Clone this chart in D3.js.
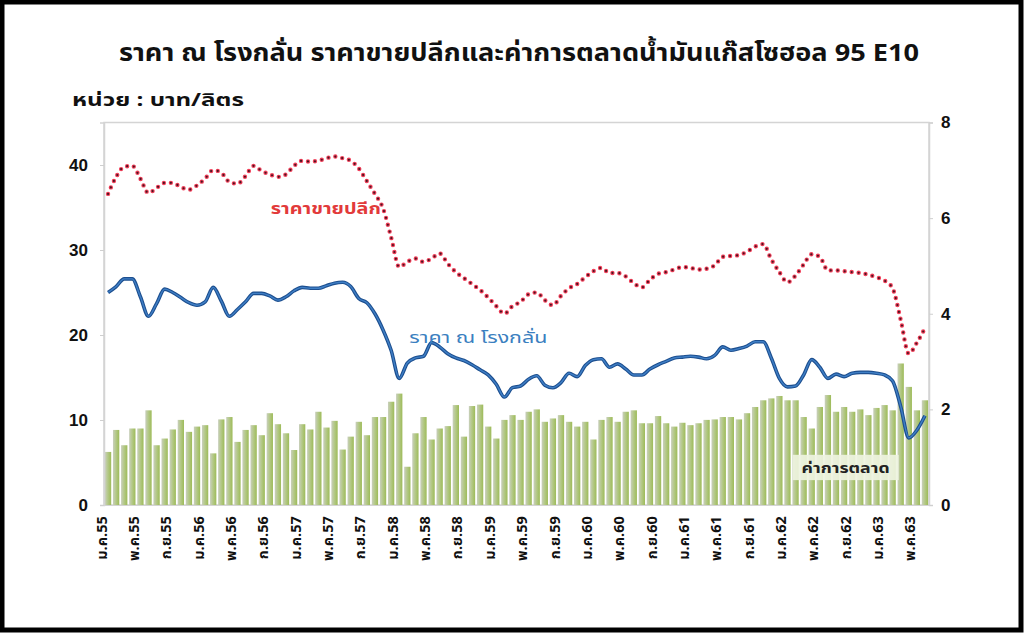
<!DOCTYPE html>
<html><head><meta charset="utf-8">
<script src="https://cdn.jsdelivr.net/npm/d3@7"></script>
<style>
body{margin:0;background:#fff;}
svg{display:block;}
text{font-family:"Noto Sans Thai","Tahoma","Leelawadee UI","Liberation Sans",sans-serif;}
</style></head>
<body><svg id="c" width="1024" height="633"></svg>
<script>
const monthNames = ['ม.ค.','ก.พ.','มี.ค.','เม.ย.','พ.ค.','มิ.ย.','ก.ค.','ส.ค.','ก.ย.','ต.ค.','พ.ย.','ธ.ค.'];
const years = ['55','56','57','58','59','60','61','62','63'];
const nMonths = 102;
const categories = [];
for (let i = 0; i < nMonths; i++) categories.push(monthNames[i % 12] + years[Math.floor(i / 12)]);

const tickLabels = ['ม.ค.55','พ.ค.55','ก.ย.55','ม.ค.56','พ.ค.56','ก.ย.56','ม.ค.57','พ.ค.57','ก.ย.57',
  'ม.ค.58','พ.ค.58','ก.ย.58','ม.ค.59','พ.ค.59','ก.ย.59','ม.ค.60','พ.ค.60','ก.ย.60',
  'ม.ค.61','พ.ค.61','ก.ย.61','ม.ค.62','พ.ค.62','ก.ย.62','ม.ค.63','พ.ค.63'];

// ราคาขายปลีก (left axis, บาท/ลิตร)
const retail = [36.6,38.6,39.8,39.9,38.4,36.7,37.3,37.9,37.9,37.4,37.1,37.6,38.4,39.4,39.1,38.0,37.8,38.7,39.9,39.3,
  38.9,38.6,38.9,39.9,40.5,40.4,40.5,40.8,41.0,40.8,40.5,39.6,38.1,36.6,34.9,31.5,28.0,28.6,29.0,28.6,
  29.0,29.6,28.4,27.4,26.7,26.0,25.3,24.4,23.4,22.5,23.4,23.9,24.8,25.0,24.1,23.5,24.6,25.5,26.0,26.8,
  27.5,27.9,27.3,27.3,26.9,26.1,25.6,26.5,27.2,27.4,27.7,28.0,27.9,27.7,27.8,28.2,29.2,29.3,29.4,29.8,
  30.4,30.7,28.9,27.4,26.2,27.0,28.3,29.5,29.2,27.6,27.6,27.5,27.4,27.3,27.1,26.8,26.4,25.5,21.8,17.8,
  19.1,20.8];
// ราคา ณ โรงกลั่น (left axis)
const refinery = [25.0,25.7,26.6,26.6,24.5,22.2,23.7,25.4,25.0,24.4,23.8,23.5,23.9,25.6,24.0,22.2,23.0,23.9,24.9,24.9,
  24.6,24.1,24.5,25.2,25.6,25.5,25.5,25.8,26.1,26.2,25.7,24.3,23.8,22.5,20.6,18.2,14.9,16.7,17.3,17.5,
  19.1,18.6,17.8,17.3,17.0,16.5,15.9,15.3,14.2,12.7,13.8,14.0,14.8,15.2,14.1,13.8,14.4,15.5,15.1,16.4,
  17.1,17.2,16.2,16.6,16.0,15.3,15.3,16.0,16.5,16.9,17.3,17.4,17.5,17.4,17.2,17.6,18.6,18.2,18.4,18.7,
  19.2,19.2,17.3,14.9,13.9,14.0,15.3,17.1,16.2,14.9,15.4,15.1,15.5,15.6,15.6,15.5,15.3,14.6,11.6,7.9,
  8.8,10.5];
// ค่าการตลาด (right axis)
const margin = [1.11,1.57,1.25,1.60,1.60,1.98,1.25,1.39,1.58,1.78,1.53,1.64,1.67,1.08,1.79,1.84,1.32,1.57,1.67,1.46,
  1.92,1.69,1.50,1.15,1.69,1.58,1.95,1.62,1.76,1.16,1.43,1.74,1.46,1.84,1.84,2.16,2.33,0.80,1.50,1.84,
  1.37,1.60,1.65,2.09,1.43,2.07,2.10,1.64,1.39,1.78,1.88,1.78,1.95,2.00,1.74,1.81,1.88,1.74,1.64,1.74,
  1.37,1.78,1.84,1.74,1.95,1.98,1.71,1.71,1.86,1.71,1.64,1.72,1.67,1.71,1.78,1.79,1.84,1.84,1.79,1.92,
  2.05,2.19,2.23,2.28,2.19,2.19,1.84,1.60,2.05,2.30,1.95,2.05,1.95,2.00,1.88,2.03,2.09,1.98,2.96,2.47,
  1.98,2.19];

const leftTicks = [0,10,20,30,40];
const rightTicks = [0,2,4,6,8];

const svg = d3.select('#c');
const X0 = 104, X1 = 929, Y0 = 505, Y1 = 122.5;

const x = d3.scaleBand().domain(categories).range([X0, X1]).paddingInner(0.22).paddingOuter(0.11);
const yL = d3.scaleLinear().domain([0, 45]).range([Y0, Y1]);
const yR = d3.scaleLinear().domain([0, 8]).range([Y0, Y1]);
const cx = d => x(d) + x.bandwidth() / 2;

// gradient for bars
const defs = svg.append('defs');
const g = defs.append('linearGradient').attr('id', 'bg').attr('x1', '0').attr('x2', '1').attr('y1', '0').attr('y2', '0');
g.append('stop').attr('offset', '0%').attr('stop-color', '#c9cfbd');
g.append('stop').attr('offset', '45%').attr('stop-color', '#b5c98a');
g.append('stop').attr('offset', '100%').attr('stop-color', '#9dbb58');

// plot frame
svg.append('rect').attr('x', X0).attr('y', Y1).attr('width', X1 - X0).attr('height', Y0 - Y1)
  .attr('fill', 'none').attr('stroke', '#d4d4d4').attr('stroke-width', 1.5);

// bars
svg.append('g').selectAll('rect').data(margin).join('rect')
  .attr('x', (d, i) => x(categories[i]))
  .attr('y', d => yR(d))
  .attr('width', x.bandwidth())
  .attr('height', d => Y0 - yR(d))
  .attr('fill', 'url(#bg)');

// axes
const axL = svg.append('g').attr('transform', `translate(${X0},0)`)
  .call(d3.axisLeft(yL).tickValues(leftTicks).tickSize(4).tickPadding(12));
const axR = svg.append('g').attr('transform', `translate(${X1},0)`)
  .call(d3.axisRight(yR).tickValues(rightTicks).tickSize(4).tickPadding(8));
[axL, axR].forEach(a => {
  a.select('.domain').attr('stroke', '#d4d4d4').attr('stroke-width', 1.5);
  a.selectAll('.tick line').attr('stroke', '#cfcfcf');
  a.selectAll('.tick text').attr('font-size', 17).attr('font-weight', 'bold').attr('fill', '#111')
    .style('font-family', '"Liberation Sans", Arial, sans-serif');
});

// x axis labels
const axB = svg.append('g').attr('transform', `translate(0,${Y0})`)
  .call(d3.axisBottom(x).tickValues(tickLabels).tickSize(0).tickPadding(6));
axB.select('.domain').attr('stroke', '#d4d4d4');
axB.selectAll('.tick text')
  .attr('transform', 'rotate(-90)')
  .attr('text-anchor', 'end')
  .attr('dx', '-0.5em').attr('dy', '-0.1em')
  .attr('x', -4).attr('y', 0)
  .attr('font-size', 14.5).attr('font-weight', 'bold').attr('fill', '#111');

// lines
const line = arr => d3.line().x((d, i) => cx(categories[i])).y(d => yL(d)).curve(d3.curveMonotoneX)(arr);
svg.append('path').attr('d', line(refinery)).attr('fill', 'none')
  .attr('stroke', '#1d4f8f').attr('stroke-width', 3.6);
svg.append('path').attr('d', line(refinery)).attr('fill', 'none')
  .attr('stroke', '#3f7fc6').attr('stroke-width', 1.4);
svg.append('path').attr('d', line(retail)).attr('fill', 'none')
  .attr('stroke', '#f0405a').attr('stroke-width', 4.4).attr('stroke-linecap', 'round').attr('stroke-dasharray', '0 7');
svg.append('path').attr('d', line(retail)).attr('fill', 'none')
  .attr('stroke', '#4a1420').attr('stroke-width', 2.2).attr('stroke-linecap', 'round').attr('stroke-dasharray', '0 7');

// series labels
svg.append('text').attr('x', cx(categories[20]) + 1).attr('y', yL(34.2))
  .attr('font-size', 15).attr('font-weight', 'bold').attr('fill', '#e23a3a')
  .attr('textLength', 110).attr('lengthAdjust', 'spacingAndGlyphs').text('ราคาขายปลีก');
svg.append('text').attr('x', cx(categories[37]) + 2).attr('y', yL(19.1))
  .attr('font-size', 16).attr('fill', '#3b7fc0')
  .attr('textLength', 138).attr('lengthAdjust', 'spacingAndGlyphs').text('ราคา ณ โรงกลั่น');
const bx0 = cx(categories[85]) - 3, bx1 = cx(categories[98]) - 2;
svg.append('rect').attr('x', bx0).attr('y', yR(1.05)).attr('width', bx1 - bx0).attr('height', yR(0.52) - yR(1.05))
  .attr('fill', '#eef3e0').attr('opacity', 0.92);
svg.append('text').attr('x', (bx0 + bx1) / 2).attr('y', yR(0.66)).attr('text-anchor', 'middle')
  .attr('font-size', 14).attr('font-weight', 'bold').attr('fill', '#222')
  .attr('textLength', 88).attr('lengthAdjust', 'spacingAndGlyphs').text('ค่าการตลาด');

// titles
svg.append('text').attr('x', 519).attr('y', 61).attr('text-anchor', 'middle')
  .attr('font-size', 24).attr('font-weight', 'bold').attr('fill', '#111')
  .attr('textLength', 800).attr('lengthAdjust', 'spacingAndGlyphs')
  .text('ราคา ณ โรงกลั่น ราคาขายปลีกและค่าการตลาดน้ำมันแก๊สโซฮอล 95 E10');
svg.append('text').attr('x', 72).attr('y', 106)
  .attr('font-size', 18).attr('font-weight', 'bold').attr('fill', '#111')
  .attr('textLength', 172).attr('lengthAdjust', 'spacingAndGlyphs').text('หน่วย : บาท/ลิตร');

// outer frame
svg.append('rect').attr('x', 2).attr('y', 2).attr('width', 1019).attr('height', 628)
  .attr('fill', 'none').attr('stroke', '#000').attr('stroke-width', 5);
</script></body></html>
